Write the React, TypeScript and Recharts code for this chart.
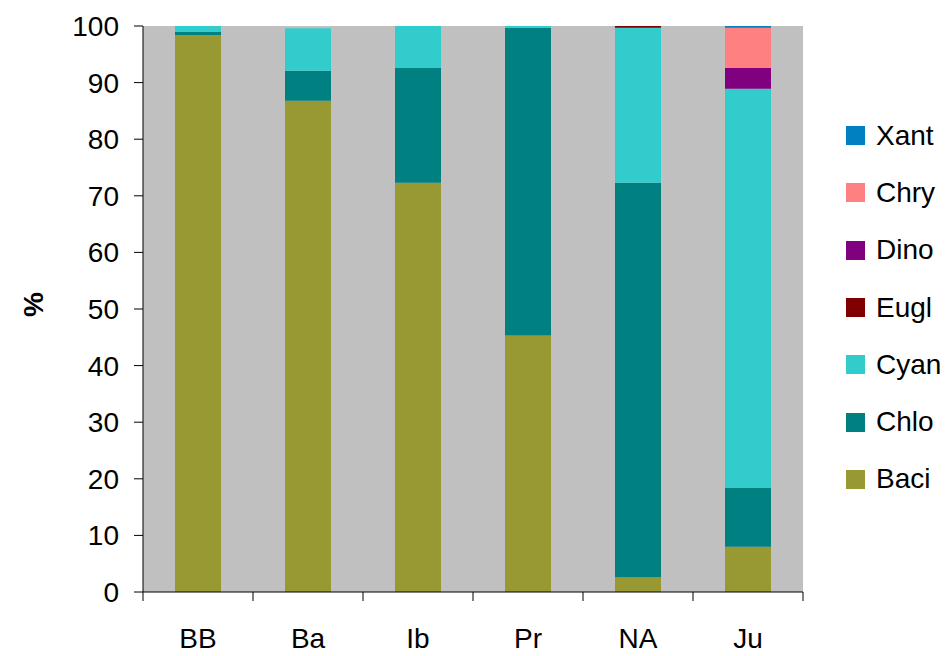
import { BarChart, Bar, XAxis, YAxis, CartesianGrid, Label } from 'recharts';

const sites = ['BB', 'Ba', 'Ib', 'Pr', 'NA', 'Ju'];

// relative abundance per algal group (%)
const baci = [98.4, 86.8, 72.3, 45.3, 2.6, 8.0];
const chlo = [0.6, 5.3, 20.3, 54.4, 69.7, 10.4];
const cyan = [1.0, 7.5, 7.4, 0.3, 27.4, 70.5];
const eugl = [0, 0, 0, 0, 0.3, 0];
const dino = [0, 0, 0, 0, 0, 3.7];
const chry = [0, 0, 0, 0, 0, 7.1];
const xant = [0, 0, 0, 0, 0, 0.3];

const yTicks = [0, 10, 20, 30, 40, 50, 60, 70, 80, 90, 100];

const groups = [
  { key: 'Baci', values: baci, color: '#999933' },
  { key: 'Chlo', values: chlo, color: '#008080' },
  { key: 'Cyan', values: cyan, color: '#33CCCC' },
  { key: 'Eugl', values: eugl, color: '#800000' },
  { key: 'Dino', values: dino, color: '#800080' },
  { key: 'Chry', values: chry, color: '#FF8080' },
  { key: 'Xant', values: xant, color: '#0080C0' },
];

const data = sites.map((site, i) => {
  const row: Record<string, string | number> = { site };
  groups.forEach((g) => {
    row[g.key] = g.values[i];
  });
  return row;
});

const FONT = '"Liberation Sans", Arial, sans-serif';
const W = 952;
const H = 656;
const LEFT = 143;
const RIGHT = 149;
const BAND = (W - LEFT - RIGHT) / sites.length;

// category label centred in the band, tick marks on the band edges
function SiteTick(props: any) {
  const { x, y, payload, index } = props;
  return (
    <g>
      <line x1={x - BAND / 2} x2={x - BAND / 2} y1={y} y2={y + 9} stroke="#000" />
      {index === sites.length - 1 && (
        <line x1={x + BAND / 2} x2={x + BAND / 2} y1={y} y2={y + 9} stroke="#000" />
      )}
      <text x={x} y={y + 56} textAnchor="middle" fontSize={28} fontFamily={FONT} fill="#000">
        {payload.value}
      </text>
    </g>
  );
}

export default function App() {
  return (
    <div style={{ position: 'absolute', left: 0, top: 0, width: W, height: H, background: '#fff' }}>
      <BarChart
        width={W}
        height={H}
        data={data}
        margin={{ top: 26, right: RIGHT, left: 0, bottom: 0 }}
        barSize={46}
      >
        <CartesianGrid fill="#C0C0C0" horizontal={false} vertical={false} />
        <XAxis
          dataKey="site"
          height={64}
          tickLine={false}
          tickSize={0}
          tickMargin={0}
          tick={<SiteTick />}
          axisLine={{ stroke: '#000' }}
          interval={0}
        />
        <YAxis
          width={LEFT}
          domain={[0, 100]}
          ticks={yTicks}
          interval={0}
          tickSize={9}
          tickMargin={15}
          axisLine={{ stroke: '#000' }}
          tickLine={{ stroke: '#000' }}
          tick={{ fontSize: 28, fontFamily: FONT, fill: '#000' }}
        >
          <Label
            value="%"
            angle={-90}
            position="insideLeft"
            offset={33}
            dy={8}
            style={{ fontSize: 28, fontWeight: 'bold', fontFamily: FONT, fill: '#000' }}
          />
        </YAxis>
        {groups.map((g) => (
          <Bar key={g.key} dataKey={g.key} stackId="a" fill={g.color} isAnimationActive={false} />
        ))}
      </BarChart>
      <div style={{ position: 'absolute', left: 846, top: 107, fontFamily: FONT, fontSize: 28 }}>
        {[...groups].reverse().map((g) => (
          <div key={g.key} style={{ display: 'flex', alignItems: 'center', height: 57.3 }}>
            <span style={{ width: 19, height: 19, background: g.color, marginRight: 11, display: 'inline-block' }} />
            <span>{g.key}</span>
          </div>
        ))}
      </div>
    </div>
  );
}
